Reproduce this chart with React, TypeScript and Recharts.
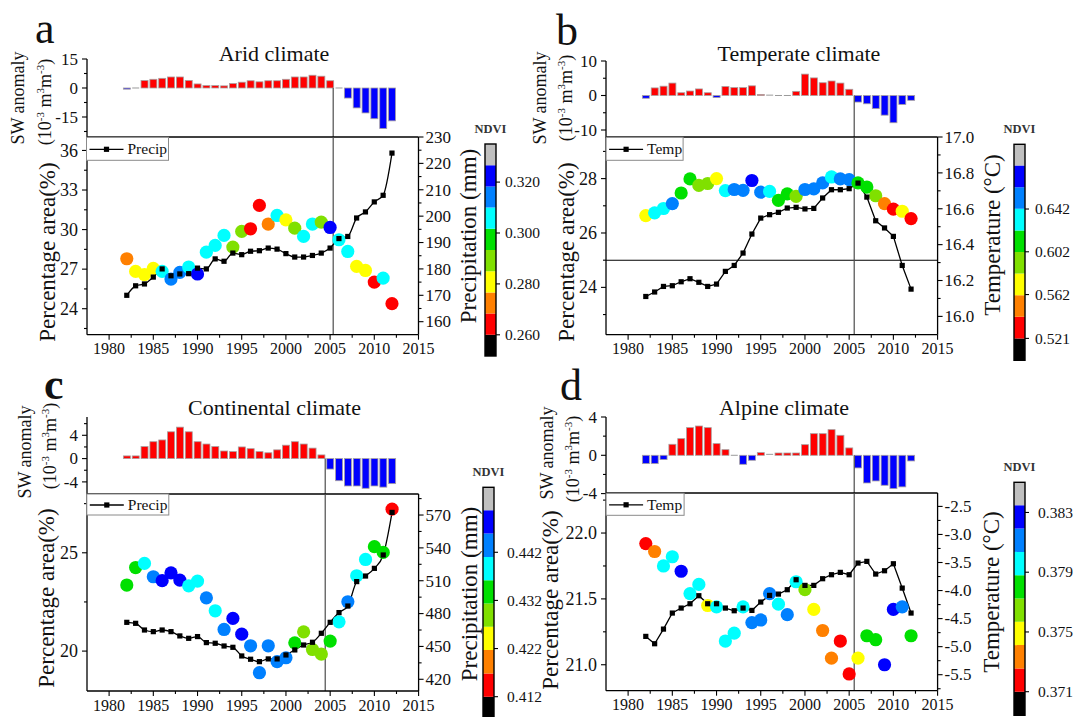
import React from 'react';
import { ComposedChart, BarChart, Bar, Line, Scatter, XAxis, YAxis, ReferenceLine } from 'recharts';

const FONT = '"Liberation Serif", "Times New Roman", Times, serif';
const INK = '#111';

const years = [
  1982, 1983, 1984, 1985, 1986, 1987, 1988, 1989, 1990, 1991, 1992, 1993, 1994, 1995, 1996, 1997,
  1998, 1999, 2000, 2001, 2002, 2003, 2004, 2005, 2006, 2007, 2008, 2009, 2010, 2011, 2012,
];

// a - arid
const aridSW = [-0.6, 0, 3.9, 4.5, 5.0, 5.7, 5.7, 3.9, 2.1, 1.25, 1.25, 1.1, 2.3, 3.0, 3.75, 3.2, 3.75, 3.75, 4.5, 5.7, 5.7, 6.6, 6.1, 3.75, 0, -5.2, -10.3, -12.9, -15.9, -21.0, -17.0];
const aridArea = [27.79, 26.83, 26.58, 27.06, 26.83, 26.25, 26.75, 27.16, 26.63, 28.29, 28.8, 29.56, 28.67, 29.86, 30.06, 31.83, 30.42, 31.07, 30.74, 30.11, 29.48, 30.42, 30.57, 30.16, 29.23, 28.34, 27.21, 26.9, 26.02, 26.32, 24.38];
const aridNdvi = [0.272, 0.281, 0.281, 0.281, 0.306, 0.314, 0.314, 0.306, 0.322, 0.306, 0.306, 0.306, 0.289, 0.289, 0.264, 0.264, 0.272, 0.306, 0.281, 0.289, 0.306, 0.306, 0.289, 0.322, 0.306, 0.306, 0.281, 0.281, 0.264, 0.306, 0.264];
const aridPrecip = [170.0, 173.6, 174.3, 176.9, 180.0, 177.4, 178.1, 178.2, 180.3, 180.0, 183.8, 182.9, 186.0, 185.4, 186.7, 186.9, 187.9, 187.5, 185.8, 184.5, 184.5, 185.1, 186.0, 187.9, 191.5, 192.3, 199.3, 201.6, 205.4, 207.9, 223.9];
const aridNdviTicks = [0.26, 0.28, 0.3, 0.32];

// b - temperate
const tempSW = [-0.8, 2.2, 2.7, 3.6, 0.8, 1.3, 1.9, 0.8, -0.6, 2.6, 2.3, 2.3, 2.8, 0.3, 0.1, 0, 0, 1.2, 6.2, 5.1, 3.7, 4.2, 3.6, 1.8, -1.9, -2.4, -3.8, -5.7, -7.9, -2.6, -1.4];
const tempArea = [26.64, 26.74, 26.9, 27.08, 27.47, 27.99, 27.75, 27.82, 28.0, 27.56, 27.6, 27.57, 27.93, 27.5, 27.53, 27.2, 27.44, 27.35, 27.6, 27.62, 27.84, 28.06, 27.99, 27.96, 27.84, 27.69, 27.37, 27.08, 26.88, 26.8, 26.53];
const tempNdvi = [0.572, 0.632, 0.632, 0.652, 0.612, 0.612, 0.592, 0.592, 0.572, 0.632, 0.652, 0.652, 0.672, 0.652, 0.632, 0.612, 0.612, 0.592, 0.652, 0.652, 0.652, 0.632, 0.652, 0.652, 0.612, 0.612, 0.592, 0.551, 0.531, 0.572, 0.531];
const tempTemp = [16.111, 16.136, 16.167, 16.171, 16.193, 16.21, 16.19, 16.167, 16.18, 16.251, 16.284, 16.353, 16.459, 16.548, 16.567, 16.58, 16.604, 16.608, 16.599, 16.602, 16.66, 16.706, 16.706, 16.712, 16.743, 16.665, 16.533, 16.493, 16.446, 16.284, 16.152];
const tempNdviTicks = [0.521, 0.562, 0.602, 0.642];

// c - continental
const contSW = [0.46, 0.46, 2.06, 2.9, 3.2, 4.6, 5.4, 4.6, 2.9, 2.5, 2.06, 1.3, 1.2, 2.0, 1.7, 1.2, 1.0, 1.5, 2.3, 2.9, 2.5, 1.8, 0.63, -1.8, -3.8, -4.7, -4.7, -5.1, -4.7, -4.9, -4.3];
const contArea = [23.36, 24.25, 24.46, 23.78, 23.58, 23.98, 23.61, 23.32, 23.56, 22.71, 22.05, 21.1, 21.66, 20.86, 20.27, 18.9, 20.27, 19.46, 19.66, 20.42, 20.98, 20.08, 19.85, 20.51, 21.49, 22.51, 23.83, 24.66, 25.31, 25.02, 27.22];
const contNdvi = [0.4338, 0.4338, 0.4386, 0.4435, 0.4483, 0.4483, 0.4483, 0.4386, 0.4386, 0.4435, 0.4386, 0.4435, 0.4483, 0.4483, 0.4435, 0.4435, 0.4435, 0.4435, 0.4435, 0.4338, 0.4289, 0.4289, 0.4289, 0.4338, 0.4386, 0.4435, 0.4386, 0.4386, 0.4338, 0.4338, 0.4144];
const contPrecip = [472.0, 471.1, 465.0, 463.5, 465.0, 463.5, 459.6, 457.4, 459.0, 453.5, 452.9, 450.4, 449.2, 441.3, 438.3, 436.1, 438.6, 438.6, 442.2, 446.8, 451.3, 453.8, 462.0, 472.0, 480.9, 486.9, 509.2, 514.3, 521.3, 533.5, 572.4];
const contNdviTicks = [0.412, 0.422, 0.432, 0.442];

// d - alpine
const alpSW = [-0.87, -0.87, -0.45, 1.15, 1.74, 2.89, 3.06, 2.89, 1.22, 0.59, 0, -0.94, -0.52, 0.28, 0.1, 0.24, 0.24, 0.24, 1.11, 2.26, 2.26, 2.68, 2.09, 0.77, -1.32, -2.89, -2.68, -3.13, -3.48, -3.3, -0.59];
const alpArea = [21.92, 21.86, 21.75, 21.82, 21.71, 21.54, 21.61, 21.45, 21.44, 21.18, 21.24, 21.44, 21.32, 21.34, 21.54, 21.46, 21.38, 21.63, 21.57, 21.42, 21.26, 21.05, 21.18, 20.93, 21.05, 21.22, 21.19, 21.0, 21.42, 21.44, 21.22];
const alpNdvi = [0.3718, 0.3733, 0.3796, 0.3796, 0.3827, 0.3796, 0.3796, 0.3749, 0.3796, 0.3796, 0.3796, 0.3796, 0.3811, 0.3811, 0.3811, 0.3796, 0.3811, 0.3796, 0.3765, 0.3749, 0.3733, 0.3733, 0.3718, 0.3718, 0.3749, 0.378, 0.378, 0.3827, 0.3827, 0.3811, 0.378];
const alpTemp = [-4.817, -4.948, -4.687, -4.401, -4.312, -4.235, -4.092, -4.235, -4.235, -4.312, -4.36, -4.312, -4.354, -4.205, -4.086, -4.063, -3.985, -3.807, -3.908, -3.908, -3.789, -3.718, -3.676, -3.718, -3.51, -3.48, -3.706, -3.647, -3.522, -3.956, -4.401];
const alpNdviTicks = [0.371, 0.375, 0.379, 0.383];

// colour bar, bottom to top
const bandColors = ['#000000', '#ff0000', '#ff8000', '#ffff00', '#80e000', '#00e000', '#00ffff', '#0080ff', '#0000ff', '#c0c0c0'];

const xDomain: [number, number] = [1977.5, 2015];
const xMajor = [1980, 1985, 1990, 1995, 2000, 2005, 2010, 2015];
const xMinor = [1982.5, 1987.5, 1992.5, 1997.5, 2002.5, 2007.5, 2012.5];

const AXW = 50;

type Side = 'left' | 'right' | 'bottom';

const isIn = (list: number[], v: number) => list.some((m) => Math.abs(m - v) < 1e-6);

function axisTick(side: Side, majors: number[], fmt: (v: number) => string, size: number, gap = 4, majLen = 5) {
  return (props: any) => {
    const { x, y, payload } = props;
    const v = payload.value;
    const major = isIn(majors, v);
    const len = major ? majLen : 3;
    const txt = { fontSize: size, fill: INK, style: { fontFamily: FONT } };
    if (side === 'left') {
      return (
        <g>
          <line x1={x} y1={y} x2={x - len} y2={y} stroke="#000" strokeWidth={1.1} />
          {major && <text x={x - majLen - gap} y={y} dy="0.34em" textAnchor="end" {...txt}>{fmt(v)}</text>}
        </g>
      );
    }
    if (side === 'right') {
      return (
        <g>
          <line x1={x} y1={y} x2={x + len} y2={y} stroke="#000" strokeWidth={1.1} />
          {major && <text x={x + majLen + gap} y={y} dy="0.34em" textAnchor="start" {...txt}>{fmt(v)}</text>}
        </g>
      );
    }
    return (
      <g>
        <line x1={x} y1={y} x2={x} y2={y + len} stroke="#000" strokeWidth={1.1} />
        {major && <text x={x} y={y + majLen + gap + size * 0.72} textAnchor="middle" {...txt}>{fmt(v)}</text>}
      </g>
    );
  };
}

interface Panel {
  letter: string; letterX: number; letterY: number; letterBold: boolean;
  title: string; titleX: number; titleY: number;
  L: number; R: number; barTop: number; boxTop: number; boxBottom: number;
  sw: number[]; area: number[]; ndvi: number[]; clim: number[];
  barDomain: [number, number]; barMajor: number[]; barMinor: number[];
  leftDomain: [number, number]; leftMajor: number[]; leftMinor: number[]; leftDec: number;
  rightDomain: [number, number]; rightMajor: number[]; rightMinor: number[]; rightDec: number;
  vline: number; hline?: number; curve: 'monotone' | 'linear';
  climName: string; legendW: number; legendH: number;
  swX: number; swY: number; unitX: number; unitY: number; areaX: number; areaY: number;
  rightText: string; rightX: number; rightY: number;
  cbX: number; cbTop: number; cbH: number; v1: number; step: number; ndviTicks: number[]; cbGap: number;
}

const bandOf = (p: Panel, v: number) => {
  const k = Math.floor((v - p.v1) / p.step) + 1;
  return bandColors[Math.max(0, Math.min(9, k))];
};

const panels: Panel[] = [
  {
    letter: 'a', letterX: 35, letterY: 43, letterBold: false, title: 'Arid climate', titleX: 274, titleY: 61,
    L: 86.5, R: 418, barTop: 59.3, boxTop: 137.3, boxBottom: 335,
    sw: aridSW, area: aridArea, ndvi: aridNdvi, clim: aridPrecip,
    barDomain: [-25.35, 15], barMajor: [-15, 0, 15], barMinor: [-22.5, -7.5, 7.5],
    leftDomain: [22.03, 37.02], leftMajor: [24, 27, 30, 33, 36], leftMinor: [22.5, 25.5, 28.5, 31.5, 34.5], leftDec: 0,
    rightDomain: [155.07, 230], rightMajor: [160, 170, 180, 190, 200, 210, 220, 230], rightMinor: [165, 175, 185, 195, 205, 215, 225], rightDec: 0,
    vline: 2005.35, curve: 'monotone', climName: 'Precip', legendW: 82, legendH: 23,
    swX: 18, swY: 98, unitX: 45, unitY: 102, areaX: 47, areaY: 252,
    rightText: 'Precipitation (mm)', rightX: 468, rightY: 236,
    cbX: 485, cbTop: 144, cbH: 212, v1: 0.26, step: 0.00833, ndviTicks: aridNdviTicks, cbGap: 5,
  },
  {
    letter: 'b', letterX: 556, letterY: 45, letterBold: false, title: 'Temperate climate', titleX: 799, titleY: 61,
    L: 606.1, R: 937.7, barTop: 60.5, boxTop: 137.3, boxBottom: 335,
    sw: tempSW, area: tempArea, ndvi: tempNdvi, clim: tempTemp,
    barDomain: [-12.26, 10], barMajor: [-10, 0, 10], barMinor: [-5, 5],
    leftDomain: [22.26, 29.53], leftMajor: [24, 26, 28], leftMinor: [23, 25, 27, 29], leftDec: 0,
    rightDomain: [15.898, 17.0], rightMajor: [16.0, 16.2, 16.4, 16.6, 16.8, 17.0], rightMinor: [16.1, 16.3, 16.5, 16.7, 16.9], rightDec: 1,
    vline: 2005.57, hline: 25, curve: 'linear', climName: 'Temp', legendW: 77, legendH: 23,
    swX: 540, swY: 98, unitX: 565.5, unitY: 98, areaX: 566, areaY: 252,
    rightText: 'Temperature (°C)', rightX: 992, rightY: 235,
    cbX: 1014, cbTop: 144.3, cbH: 216, v1: 0.521, step: 0.0202, ndviTicks: tempNdviTicks, cbGap: 6,
  },
  {
    letter: 'c', letterX: 44, letterY: 399, letterBold: true, title: 'Continental climate', titleX: 274.5, titleY: 415,
    L: 86.8, R: 418.4, barTop: 416.7, boxTop: 494, boxBottom: 691,
    sw: contSW, area: contArea, ndvi: contNdvi, clim: contPrecip,
    barDomain: [-6.13, 7.14], barMajor: [-4, 0, 4], barMinor: [-2, 2, 6],
    leftDomain: [17.97, 27.99], leftMajor: [20, 25], leftMinor: [22.5, 27.5], leftDec: 0,
    rightDomain: [409.3, 589.2], rightMajor: [420, 450, 480, 510, 540, 570], rightMinor: [435, 465, 495, 525, 555, 585], rightDec: 0,
    vline: 2004.44, curve: 'monotone', climName: 'Precip', legendW: 82, legendH: 21,
    swX: 25, swY: 452, unitX: 50, unitY: 446, areaX: 46, areaY: 598,
    rightText: 'Precipitation (mm)', rightX: 469, rightY: 594,
    cbX: 483, cbTop: 487.3, cbH: 233, v1: 0.412, step: 0.00484, ndviTicks: contNdviTicks, cbGap: 9,
  },
  {
    letter: 'd', letterX: 560, letterY: 400, letterBold: false, title: 'Alpine climate', titleX: 784, titleY: 415,
    L: 606.1, R: 937.7, barTop: 416.7, boxTop: 493.3, boxBottom: 691,
    sw: alpSW, area: alpArea, ndvi: alpNdvi, clim: alpTemp,
    barDomain: [-4, 4], barMajor: [-4, 0, 4], barMinor: [-2, 2],
    leftDomain: [20.803, 22.304], leftMajor: [21.0, 21.5, 22.0], leftMinor: [21.25, 21.75, 22.25], leftDec: 1,
    rightDomain: [-5.785, -2.261], rightMajor: [-5.5, -5.0, -4.5, -4.0, -3.5, -3.0, -2.5], rightMinor: [-5.75, -5.25, -4.75, -4.25, -3.75, -3.25, -2.75], rightDec: 1,
    vline: 2005.57, curve: 'linear', climName: 'Temp', legendW: 78, legendH: 22,
    swX: 546.5, swY: 453, unitX: 572.5, unitY: 459, areaX: 550, areaY: 600,
    rightText: 'Temperature (°C)', rightX: 990.5, rightY: 592,
    cbX: 1014, cbTop: 482.3, cbH: 233, v1: 0.371, step: 0.00156, ndviTicks: alpNdviTicks, cbGap: 9,
  },
];

const SwBar = (p: any) => {
  const { x, y, width, height, payload } = p;
  const h = Math.abs(height || 0);
  const top = height < 0 ? y + height : y;
  if (h < 1) return <line x1={x} x2={x + width} y1={y} y2={y} stroke="#9a9a9a" strokeWidth={1} />;
  return (
    <rect x={x} y={top} width={width} height={h} fill={payload.sw >= 0 ? '#ff0000' : '#0000ff'} stroke="#a8a0a0" strokeWidth={0.8} />
  );
};

function PanelCharts({ c }: { c: Panel }) {
  const rows = years.map((yr, i) => ({ year: yr, sw: c.sw[i], area: c.area[i], ndvi: c.ndvi[i], clim: c.clim[i] }));
  const plotW = c.R - c.L;
  const barPad = 12;
  const barBottomPad = 10;
  const barH = c.boxTop - c.barTop + barPad + barBottomPad;
  const topPad = 12;
  const mainH = c.boxBottom - c.boxTop + topPad + 30;
  const fmtL = (v: number) => v.toFixed(c.leftDec);
  const fmtR = (v: number) => v.toFixed(c.rightDec);
  const axisLine = { stroke: '#000', strokeWidth: 1.3 };
  return (
    <>
      <div style={{ position: 'absolute', left: c.L - AXW, top: c.barTop - barPad }}>
        <ComposedChart width={plotW + 2 * AXW} height={barH} data={rows} margin={{ top: barPad, right: AXW, bottom: barBottomPad, left: 0 }}>
          <XAxis type="number" dataKey="year" domain={xDomain} allowDataOverflow hide />
          <YAxis
            type="number" width={AXW} domain={c.barDomain} allowDataOverflow
            ticks={[...c.barMajor, ...c.barMinor].sort((a, b) => a - b)} interval={0}
            tickSize={0} tickMargin={0} tickLine={false} axisLine={axisLine}
            tick={axisTick('left', c.barMajor, (v) => String(v), 17)}
          />
          <Bar dataKey="sw" barSize={7} isAnimationActive={false} shape={SwBar} />
          <ReferenceLine segment={[{ x: c.vline, y: 0 }, { x: c.vline, y: c.barDomain[0] }]} stroke="#4d4d4d" strokeWidth={1.2} />
        </ComposedChart>
      </div>
      <div style={{ position: 'absolute', left: c.L - AXW, top: c.boxTop - topPad }}>
        <ComposedChart width={plotW + 2 * AXW} height={mainH} data={rows} margin={{ top: topPad, right: 0, bottom: 0, left: 0 }}>
          <XAxis
            type="number" dataKey="year" domain={xDomain} allowDataOverflow height={30}
            ticks={[...xMajor, ...xMinor].sort((a, b) => a - b)} interval={0}
            tickSize={0} tickMargin={0} tickLine={false} axisLine={axisLine}
            tick={axisTick('bottom', xMajor, (v) => String(v), 16, 3)}
          />
          <YAxis
            yAxisId="left" type="number" width={AXW} domain={c.leftDomain} allowDataOverflow
            ticks={[...c.leftMajor, ...c.leftMinor].sort((a, b) => a - b)} interval={0}
            tickSize={0} tickMargin={0} tickLine={false} axisLine={axisLine}
            tick={axisTick('left', c.leftMajor, fmtL, 18)}
          />
          <YAxis
            yAxisId="right" orientation="right" type="number" width={AXW} domain={c.rightDomain} allowDataOverflow
            ticks={[...c.rightMajor, ...c.rightMinor].sort((a, b) => a - b)} interval={0}
            tickSize={0} tickMargin={0} tickLine={false} axisLine={axisLine}
            tick={axisTick('right', c.rightMajor, fmtR, 17, 2)}
          />
          <ReferenceLine yAxisId="left" y={c.leftDomain[1]} stroke="#000" strokeWidth={1.3} />
          {c.hline !== undefined && <ReferenceLine yAxisId="left" y={c.hline} stroke="#000" strokeWidth={1.1} />}
          <ReferenceLine yAxisId="left" x={c.vline} stroke="#4d4d4d" strokeWidth={1.2} />
          <Scatter
            yAxisId="left" dataKey="area" isAnimationActive={false}
            shape={(p: any) => <circle cx={p.cx} cy={p.cy} r={6.6} fill={bandOf(c, p.payload.ndvi)} />}
          />
          <Line
            yAxisId="right" dataKey="clim" type={c.curve} stroke="#000" strokeWidth={1.3} isAnimationActive={false}
            dot={(p: any) => <rect key={`sq${p.index}`} x={p.cx - 2.6} y={p.cy - 2.6} width={5.2} height={5.2} fill="#000" />}
            activeDot={false}
          />
        </ComposedChart>
      </div>
    </>
  );
}

function ColorBar({ c }: { c: Panel }) {
  const row: Record<string, any> = { k: 'ndvi' };
  bandColors.forEach((_, i) => { row['b' + i] = 1; });
  const pos = c.ndviTicks.map((v) => 1 + (v - c.v1) / c.step);
  const labelAt = (p: number) => {
    const i = pos.findIndex((q) => Math.abs(q - p) < 1e-6);
    return i >= 0 ? c.ndviTicks[i].toFixed(3) : '';
  };
  const pad = 5;
  return (
    <div style={{ position: 'absolute', left: c.cbX, top: c.cbTop - pad }}>
      <BarChart width={11 + 70} height={c.cbH + 2 * pad} data={[row]} margin={{ top: pad, right: 0, bottom: pad, left: 0 }} barCategoryGap={0}>
        <XAxis dataKey="k" hide />
        <YAxis
          orientation="right" type="number" width={70} domain={[0, 10]} allowDataOverflow
          ticks={pos} interval={0} tickSize={0} tickMargin={0} tickLine={false} axisLine={false}
          tick={axisTick('right', pos, labelAt, 15.5, c.cbGap, 4)}
        />
        {bandColors.map((col, i) => (
          <Bar key={col} dataKey={'b' + i} stackId="cb" fill={col} isAnimationActive={false} />
        ))}
      </BarChart>
    </div>
  );
}

function Sup({ children }: { children: string }) {
  return <tspan dy={-7} fontSize={11}>{children}</tspan>;
}

function PanelText({ c }: { c: Panel }) {
  const rot = (x: number, y: number) => `translate(${x} ${y}) rotate(-90)`;
  const ly = c.boxTop + c.legendH / 2 + 0.5;
  return (
    <g style={{ fontFamily: FONT }} fill={INK}>
      <text x={c.letterX} y={c.letterY} fontSize={44} fontWeight={c.letterBold ? 'bold' : 'normal'}>{c.letter}</text>
      <text x={c.titleX} y={c.titleY} fontSize={22} textAnchor="middle">{c.title}</text>
      <text transform={rot(c.swX, c.swY)} fontSize={18} textAnchor="middle" dy="0.35em">SW anomaly</text>
      <text transform={rot(c.unitX, c.unitY)} fontSize={18} textAnchor="middle" dy="0.35em">
        (10<Sup>-3</Sup><tspan dy={7}> m</tspan><Sup>3</Sup><tspan dy={7}>m</tspan><Sup>-3</Sup><tspan dy={7}>)</tspan>
      </text>
      <text transform={rot(c.areaX, c.areaY)} fontSize={23} textAnchor="middle" dy="0.35em">Percentage area(%)</text>
      <text transform={rot(c.rightX, c.rightY)} fontSize={23} textAnchor="middle" dy="0.35em">{c.rightText}</text>
      <rect x={c.L} y={c.boxTop} width={c.legendW} height={c.legendH} fill="#fff" stroke="#8a8a8a" strokeWidth={1} />
      <line x1={c.L + 3} x2={c.L + 37} y1={ly} y2={ly} stroke="#000" strokeWidth={1.3} />
      <rect x={c.L + 17.4} y={ly - 2.6} width={5.2} height={5.2} fill="#000" />
      <text x={c.L + 41} y={ly + 5} fontSize={15.5}>{c.climName}</text>
      <text x={c.cbX + 5.5} y={c.cbTop - 11.5} fontSize={12.5} fontWeight="bold" textAnchor="middle" fill="#333">NDVI</text>
      <rect x={c.cbX} y={c.cbTop} width={11} height={c.cbH} fill="none" stroke="#000" strokeWidth={1.4} />
    </g>
  );
}

export default function App() {
  return (
    <div style={{ position: 'absolute', left: 0, top: 0, width: 1074, height: 717, overflow: 'hidden', background: '#fff', fontFamily: FONT }}>
      {panels.map((c) => (
        <React.Fragment key={c.letter}>
          <PanelCharts c={c} />
          <ColorBar c={c} />
        </React.Fragment>
      ))}
      <svg width={1074} height={717} style={{ position: 'absolute', left: 0, top: 0, pointerEvents: 'none' }}>
        {panels.map((c) => <PanelText key={c.letter} c={c} />)}
      </svg>
    </div>
  );
}
